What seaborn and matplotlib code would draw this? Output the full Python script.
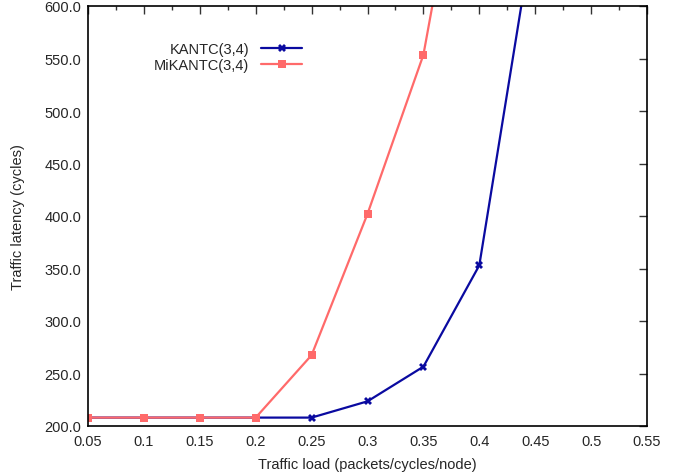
import pandas as pd
import seaborn as sns
import matplotlib.pyplot as plt
from matplotlib.ticker import MultipleLocator, FormatStrFormatter

# values
loads = [0.05, 0.1, 0.15, 0.2, 0.25, 0.3, 0.35, 0.4, 0.45]
kantc = [208, 208, 208, 208, 208, 223.5, 256.5, 353, 682]
mikantc = [208, 208, 208, 208, 267.5, 402, 553.5, 845, None]

labels = ["KANTC(3,4)", "MiKANTC(3,4)"]
colors = {"KANTC(3,4)": "#0a0aa0", "MiKANTC(3,4)": "#ff6a6a"}
markers = {"KANTC(3,4)": "X", "MiKANTC(3,4)": "s"}

rows = []
for name, vals in zip(labels, [kantc, mikantc]):
    for x, y in zip(loads, vals):
        if y is not None:
            rows.append({"load": x, "latency": y, "series": name})
df = pd.DataFrame(rows)

sns.set_style("white")
plt.rcParams['font.family'] = ['Liberation Sans', 'DejaVu Sans']

fig, ax = plt.subplots(figsize=(6.94, 4.77), dpi=100)
fig.subplots_adjust(left=88/694, right=647/694, top=1 - 7/477, bottom=1 - 427/477)

sns.lineplot(data=df, x="load", y="latency", hue="series", style="series",
             palette=colors, markers=markers, dashes=False, markersize=6,
             markeredgewidth=0, linewidth=1.6, ax=ax, sort=False)

ax.set_xlim(0.05, 0.55)
ax.set_ylim(200, 600)
ax.xaxis.set_major_locator(MultipleLocator(0.05))
ax.xaxis.set_minor_locator(MultipleLocator(0.025))
ax.yaxis.set_major_locator(MultipleLocator(50))
ax.yaxis.set_major_formatter(FormatStrFormatter('%.1f'))
ax.set_xticklabels([f"{t:g}" for t in ax.get_xticks()])
ax.tick_params(axis='x', which='both', direction='in', top=True, labelsize=10.5,
               color='#333333', pad=6)
ax.tick_params(axis='y', which='both', direction='in', right=True, labelsize=10.5,
               color='#333333', pad=5)
ax.tick_params(which='major', length=6, width=1)
ax.tick_params(which='minor', length=3, width=1)
ax.set_xlabel("Traffic load (packets/cycles/node)", fontsize=10.5, labelpad=6)
ax.set_ylabel("Traffic latency (cycles)", fontsize=10.5, labelpad=14)
for s in ax.spines.values():
    s.set_color('black')
    s.set_linewidth(1.2)

ax.legend(title=None, loc='upper left', bbox_to_anchor=(0.095, 0.945), frameon=False,
          markerfirst=False, fontsize=10.5, handlelength=2.8, labelspacing=0.1)

plt.savefig("out.png", dpi=100)
plt.close()
